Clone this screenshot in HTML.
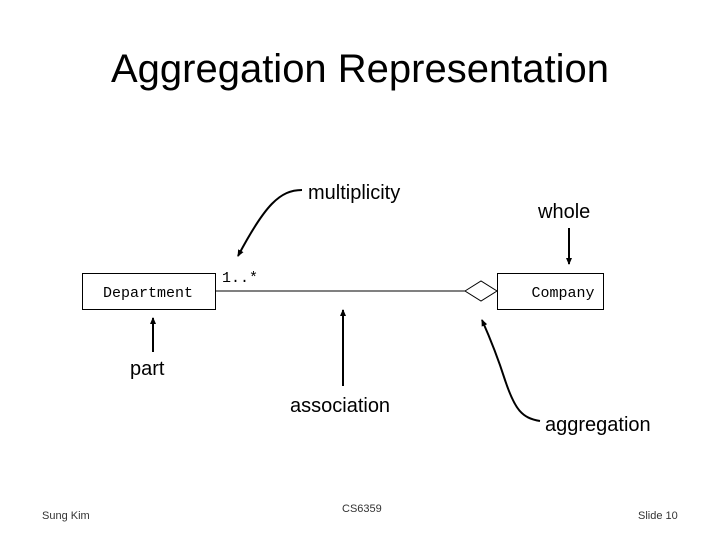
<!DOCTYPE html>
<html><head><meta charset="utf-8"><style>
html,body{margin:0;padding:0;background:#fff;width:720px;height:540px;overflow:hidden}
</style></head><body>
<svg width="720" height="540" viewBox="0 0 720 540" xmlns="http://www.w3.org/2000/svg" font-family="Liberation Sans, sans-serif">
<defs><marker id="a" markerWidth="8" markerHeight="8" refX="6" refY="4" orient="auto" markerUnits="userSpaceOnUse"><path d="M0,1 L7,4 L0,7 z" fill="#000"/></marker></defs>
<text x="360" y="82" font-size="40" text-anchor="middle" textLength="498" lengthAdjust="spacingAndGlyphs">Aggregation Representation</text>
<rect x="82.5" y="273.5" width="133" height="36" fill="#fff" stroke="#000"/>
<text x="148" y="297" font-family="Liberation Mono, monospace" font-size="15" text-anchor="middle">Department</text>
<rect x="497.5" y="273.5" width="106" height="36" fill="#fff" stroke="#000"/>
<text x="563" y="297" font-family="Liberation Mono, monospace" font-size="15" text-anchor="middle">Company</text>
<line x1="215" y1="291" x2="465" y2="291" stroke="#000"/>
<path d="M465,291 L481,281 L497,291 L481,301 Z" fill="#fff" stroke="#000"/>
<text x="222" y="282" font-family="Liberation Mono, monospace" font-size="15">1..*</text>
<text x="308" y="199" font-size="20">multiplicity</text>
<path d="M302,190 C280,190 265,205 238,256" fill="none" stroke="#000" stroke-width="2" marker-end="url(#a)"/>
<text x="538" y="218" font-size="20">whole</text>
<line x1="569" y1="228" x2="569" y2="264" stroke="#000" stroke-width="2" marker-end="url(#a)"/>
<line x1="153" y1="352" x2="153" y2="318" stroke="#000" stroke-width="2" marker-end="url(#a)"/>
<text x="130" y="375" font-size="20">part</text>
<line x1="343" y1="386" x2="343" y2="310" stroke="#000" stroke-width="2" marker-end="url(#a)"/>
<text x="290" y="412" font-size="20">association</text>
<path d="M540,421 C522,418 515,410 505,380 C497,355 490,338 482,320" fill="none" stroke="#000" stroke-width="2" marker-end="url(#a)"/>
<text x="545" y="431" font-size="20">aggregation</text>
<text x="42" y="519" font-size="11" fill="#333">Sung Kim</text>
<text x="342" y="512" font-size="11" fill="#333">CS6359</text>
<text x="638" y="519" font-size="11" fill="#333">Slide 10</text>
</svg>
</body></html>
